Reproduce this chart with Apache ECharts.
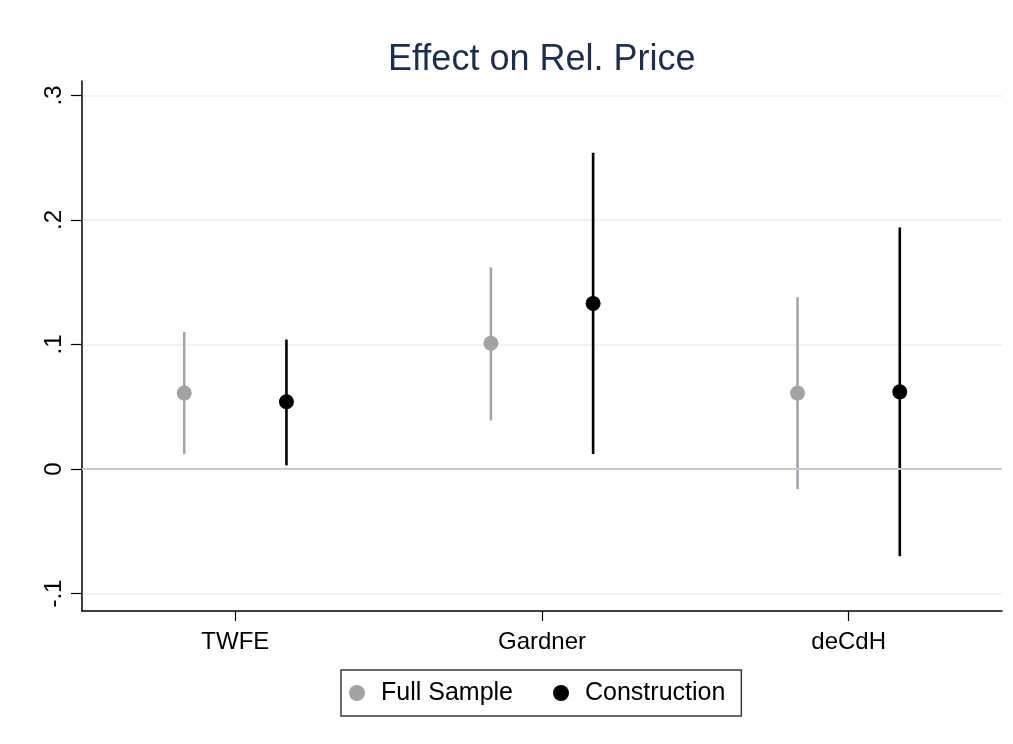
<!DOCTYPE html>
<html>
<head>
<meta charset="utf-8">
<script src="https://cdn.jsdelivr.net/npm/echarts@6/dist/echarts.min.js"></script>
<style>
  html, body { margin: 0; padding: 0; background: #fff; }
  #chart { width: 1013px; height: 744px; }
</style>
</head>
<body>
<div id="chart"></div>
<script>
const categories = ['TWFE', 'Gardner', 'deCdH'];
const yTicks = [-0.1, 0, 0.1, 0.2, 0.3];
const fullEst = [0.061, 0.101, 0.061];
const fullLo  = [0.012, 0.039, -0.016];
const fullHi  = [0.110, 0.162, 0.138];
const consEst = [0.054, 0.133, 0.062];
const consLo  = [0.003, 0.012, -0.070];
const consHi  = [0.104, 0.254, 0.194];

const catPos = categories.map((_, i) => i + 1);
const OFF = 1 / 6;
const GREY = '#a3a3a3';
const BLACK = '#000000';
const FONT = 'Liberation Sans, Arial, sans-serif';

function ciData(lo, hi, shift) {
  return catPos.map((p, i) => [p + shift, lo[i], hi[i]]);
}
function ptData(est, shift) {
  return catPos.map((p, i) => [p + shift, est[i]]);
}
function ciSeries(name, lo, hi, shift, color, width) {
  return {
    name: name,
    type: 'custom',
    silent: true,
    z: 3,
    data: ciData(lo, hi, shift),
    renderItem: function (params, api) {
      const a = api.coord([api.value(0), api.value(1)]);
      const b = api.coord([api.value(0), api.value(2)]);
      return {
        type: 'line',
        shape: { x1: a[0], y1: a[1], x2: b[0], y2: b[1] },
        style: { stroke: color, lineWidth: width }
      };
    }
  };
}
function fmtY(v) {
  if (Math.abs(v) < 1e-9) return '0';
  let s = (Math.round(v * 10) / 10).toString();
  return s.replace('0.', '.');
}

const chart = echarts.init(document.getElementById('chart'), null, { renderer: 'canvas' });
chart.setOption({
  backgroundColor: '#ffffff',
  animation: false,
  textStyle: { fontFamily: FONT },
  title: {
    text: 'Effect on Rel. Price',
    left: 383,
    top: 37,
    textStyle: { fontFamily: FONT, fontSize: 36, fontWeight: 'normal', color: '#1c2d52' }
  },
  grid: { left: 82, right: 11, top: 81, bottom: 133, containLabel: false },
  xAxis: {
    type: 'value',
    min: 0.5,
    max: 3.5,
    axisLine: { show: true, onZero: false, lineStyle: { color: '#000', width: 1.5 } },
    axisTick: { show: true, customValues: catPos, length: 10, lineStyle: { color: '#000', width: 1.2 } },
    axisLabel: {
      customValues: catPos,
      formatter: v => categories[Math.round(v) - 1],
      fontSize: 24, color: '#000', margin: 19, fontFamily: FONT
    },
    splitLine: { show: false }
  },
  yAxis: {
    type: 'value',
    min: -0.114,
    max: 0.3116,
    axisLine: { show: true, onZero: false, lineStyle: { color: '#000', width: 1.5 } },
    axisTick: { show: true, customValues: yTicks, length: 11, lineStyle: { color: '#000', width: 1.2 } },
    axisLabel: {
      customValues: yTicks,
      formatter: fmtY,
      rotate: 90,
      fontSize: 24, color: '#000', margin: 16, fontFamily: FONT
    },
    splitLine: { show: true, lineStyle: { color: '#e9f1f2', width: 1.5 } }
  },
  legend: {
    left: 341,
    top: 670,
    orient: 'horizontal',
    padding: [9, 16, 9, 8],
    itemWidth: 16,
    itemHeight: 16,
    itemGap: 40,
    borderColor: '#3a3a3a',
    borderWidth: 1.5,
    backgroundColor: '#fff',
    textStyle: { fontSize: 25, color: '#000', fontFamily: FONT, padding: [0, 0, 0, 11], lineHeight: 28 },
    data: [
      { name: 'Full Sample', icon: 'circle', itemStyle: { color: GREY } },
      { name: 'Construction', icon: 'circle', itemStyle: { color: BLACK } }
    ]
  },
  series: [
    {
      name: 'zero',
      type: 'line',
      data: [],
      silent: true,
      z: 1,
      markLine: {
        silent: true,
        symbol: 'none',
        label: { show: false },
        lineStyle: { color: '#c0ccd8', width: 2, type: 'solid' },
        data: [{ yAxis: 0 }]
      }
    },
    ciSeries('Full Sample CI', fullLo, fullHi, -OFF, GREY, 2.5),
    ciSeries('Construction CI', consLo, consHi, OFF, BLACK, 2.6),
    {
      name: 'Full Sample',
      type: 'scatter',
      z: 4,
      symbol: 'circle',
      symbolSize: 15,
      itemStyle: { color: GREY, opacity: 1 },
      data: ptData(fullEst, -OFF)
    },
    {
      name: 'Construction',
      type: 'scatter',
      z: 4,
      symbol: 'circle',
      symbolSize: 15,
      itemStyle: { color: BLACK, opacity: 1 },
      data: ptData(consEst, OFF)
    }
  ]
});
</script>
</body>
</html>
